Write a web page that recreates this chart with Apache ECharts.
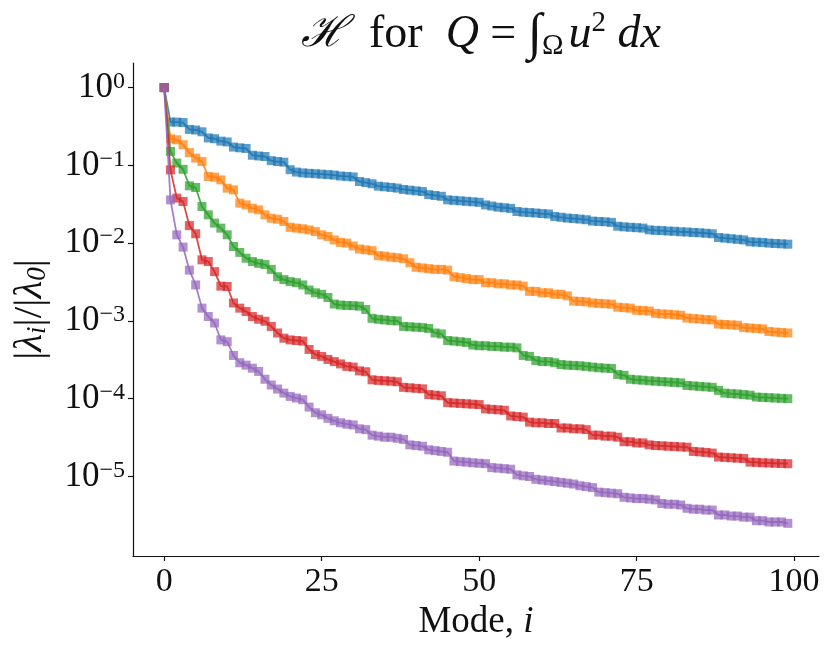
<!DOCTYPE html>
<html>
<head>
<meta charset="utf-8">
<script src="https://cdn.jsdelivr.net/npm/echarts@6/dist/echarts.min.js"></script>
<style>
  html, body { margin: 0; padding: 0; background: #fff; }
  #chart { width: 830px; height: 650px; }
</style>
</head>
<body>
<div id="chart"></div>
<script>
// |lambda_i| / |lambda_0| for modes 0..99, one list per curve
const blue = [1,
  0.36, 0.36, 0.355, 0.29, 0.285, 0.27, 0.225, 0.22, 0.205, 0.2,
  0.172, 0.168, 0.165, 0.135, 0.132, 0.13, 0.115, 0.112, 0.11, 0.088,
  0.082, 0.08, 0.079, 0.078, 0.077, 0.076, 0.075, 0.073, 0.072, 0.071,
  0.062, 0.06, 0.058, 0.054, 0.053, 0.052, 0.051, 0.049, 0.048, 0.047,
  0.046, 0.042, 0.041, 0.04, 0.036, 0.0355, 0.035, 0.0345, 0.034, 0.0335,
  0.031, 0.03, 0.029, 0.0285, 0.028, 0.0255, 0.025, 0.0247, 0.0244, 0.024,
  0.0237, 0.022, 0.0215, 0.021, 0.0207, 0.0204, 0.02, 0.0192, 0.019, 0.0188,
  0.0185, 0.0165, 0.0162, 0.016, 0.0158, 0.0156, 0.0148, 0.0146, 0.0145, 0.0143,
  0.0142, 0.014, 0.0139, 0.0137, 0.0136, 0.0134, 0.0132, 0.0118, 0.0116, 0.0114,
  0.0112, 0.011, 0.0104, 0.0103, 0.0102, 0.01, 0.0099, 0.0098, 0.0097];

const orange = [1,
  0.219, 0.213, 0.184, 0.146, 0.124, 0.112, 0.0718, 0.0705, 0.065, 0.0509,
  0.0484, 0.0327, 0.031, 0.0281, 0.0268, 0.0231, 0.0209, 0.0203, 0.019, 0.016,
  0.0156, 0.0153, 0.0148, 0.0141, 0.0128, 0.0122, 0.011, 0.0102, 0.01, 0.0092,
  0.0084, 0.0082, 0.008, 0.0069, 0.0068, 0.0066, 0.0065, 0.0063, 0.0056, 0.0049,
  0.0048, 0.0047, 0.0046, 0.0046, 0.0045, 0.0037, 0.0036, 0.0035, 0.0034, 0.0034,
  0.0031, 0.0031, 0.003, 0.003, 0.0029, 0.0029, 0.0028, 0.0024, 0.0024, 0.0023,
  0.0023, 0.0022, 0.0022, 0.0021, 0.0018, 0.00178, 0.00176, 0.0017, 0.00168, 0.00166,
  0.00164, 0.0015, 0.00148, 0.00146, 0.00137, 0.00136, 0.00134, 0.00125, 0.00123, 0.00122,
  0.0012, 0.00118, 0.00109, 0.00107, 0.00106, 0.00104, 0.00103, 0.00091, 0.0009, 0.00089,
  0.00088, 0.00082, 0.00081, 0.0008, 0.00079, 0.00073, 0.00072, 0.00071, 0.0007];

const green = [1,
  0.151, 0.107, 0.089, 0.0545, 0.0519, 0.0296, 0.0231, 0.0181, 0.0156, 0.0128,
  0.00905, 0.0076, 0.0064, 0.0058, 0.0055, 0.0053, 0.0046, 0.0037, 0.0034, 0.0032,
  0.0031, 0.0029, 0.0025, 0.0023, 0.0022, 0.002, 0.00165, 0.0016, 0.00158, 0.00157,
  0.00155, 0.0014, 0.00108, 0.00105, 0.00103, 0.00101, 0.001, 0.00085, 0.00084, 0.00083,
  0.00082, 0.0008, 0.0007, 0.00068, 0.00056, 0.00055, 0.00054, 0.00053, 0.00049, 0.00048,
  0.00048, 0.00047, 0.00047, 0.00046, 0.00046, 0.00045, 0.00036, 0.00035, 0.00031, 0.0003,
  0.0003, 0.00029, 0.000275, 0.00027, 0.000268, 0.000265, 0.00026, 0.000255, 0.00025, 0.000247,
  0.000245, 0.000205, 0.0002, 0.000178, 0.000175, 0.000173, 0.00017, 0.000168, 0.000166, 0.000164,
  0.000162, 0.00016, 0.000148, 0.000146, 0.000144, 0.000142, 0.00014, 0.000128, 0.000118, 0.000116,
  0.000115, 0.000113, 0.000111, 0.000105, 0.000104, 0.000103, 0.000102, 0.000101, 0.0001];

const red = [1,
  0.0875, 0.0379, 0.0343, 0.0168, 0.0132, 0.0061, 0.0058, 0.0043, 0.0028, 0.00277,
  0.0017, 0.00146, 0.00132, 0.00114, 0.00105, 0.00099, 0.00085, 0.0007, 0.0006, 0.00057,
  0.00056, 0.00055, 0.00043, 0.00037, 0.00035, 0.00032, 0.0003, 0.00028, 0.00026, 0.000255,
  0.000228, 0.000222, 0.000175, 0.000172, 0.00017, 0.000168, 0.000165, 0.00014, 0.000138, 0.000136,
  0.000134, 0.000113, 0.000111, 0.000109, 0.000089, 0.000088, 0.000087, 0.000086, 0.000085, 0.000084,
  0.000074, 0.000073, 0.000072, 0.000071, 0.00006, 0.000059, 0.000058, 0.00005, 0.000049, 0.000049,
  0.000048, 0.000048, 0.000042, 0.000042, 0.000041, 0.000041, 0.00004, 0.000034, 0.000034, 0.000033,
  0.000033, 0.000032, 0.000028, 0.000028, 0.000027, 0.000027, 0.0000255, 0.000025, 0.0000248, 0.0000245,
  0.0000243, 0.000024, 0.0000238, 0.000021, 0.0000207, 0.0000204, 0.00002, 0.0000178, 0.0000176, 0.0000174,
  0.0000172, 0.000017, 0.0000153, 0.0000152, 0.000015, 0.0000149, 0.0000148, 0.0000147, 0.0000146];

const purple = [1,
  0.036, 0.0128, 0.0089, 0.0045, 0.0029, 0.00146, 0.00114, 0.00094, 0.00057, 0.00054,
  0.00036, 0.00029, 0.00027, 0.000247, 0.000224, 0.000178, 0.00015, 0.000133, 0.000118, 0.000107,
  0.000102, 0.000097, 0.000078, 0.000066, 0.000062, 0.000056, 0.000052, 0.000049, 0.000047, 0.000046,
  0.000041, 0.00004, 0.000034, 0.000033, 0.000032, 0.000032, 0.000031, 0.00003, 0.0000255, 0.000025,
  0.0000245, 0.000022, 0.0000215, 0.000021, 0.0000205, 0.0000158, 0.0000155, 0.0000153, 0.000015, 0.0000148,
  0.0000146, 0.000013, 0.0000128, 0.0000126, 0.0000124, 0.0000105, 0.0000102, 0.00001, 0.0000092, 0.000009,
  0.0000088, 0.0000086, 0.0000084, 0.0000082, 0.000008, 0.0000076, 0.0000074, 0.0000072, 0.0000063, 0.0000062,
  0.0000061, 0.000006, 0.0000054, 0.0000053, 0.0000052, 0.0000052, 0.0000051, 0.000005, 0.0000045, 0.0000044,
  0.0000044, 0.0000043, 0.0000039, 0.0000038, 0.0000038, 0.0000037, 0.0000037, 0.0000032, 0.0000032, 0.0000031,
  0.0000031, 0.000003, 0.000003, 0.0000027, 0.0000027, 0.0000026, 0.0000026, 0.0000026, 0.0000025];

const curves = [blue, orange, green, red, purple];
const colors = ['#1f77b4', '#ff7f0e', '#2ca02c', '#d62728', '#9467bd'];

const xTicks = [0, 25, 50, 75, 100];
const yTicks = [1, 0.1, 0.01, 0.001, 0.0001, 0.00001];
const yTickExps = ['0', '−1', '−2', '−3', '−4', '−5'];

const FONT = '"Liberation Serif", "DejaVu Serif", serif';
const INK = '#111';

const chart = echarts.init(document.getElementById('chart'), null, { renderer: 'canvas' });

function yLabel(v) {
  let k = 0;
  for (let j = 0; j < yTicks.length; j++) {
    if (Math.abs(Math.log10(yTicks[j]) - Math.log10(v)) < 0.01) k = j;
  }
  return '{n|10}{s|' + yTickExps[k] + '}';
}

const series = curves.map((vals, c) => ({
  type: 'line',
  data: vals.map((v, i) => [i, v]),
  symbol: 'rect',
  symbolSize: 9,
  showSymbol: true,
  itemStyle: { color: colors[c], opacity: 0.72 },
  lineStyle: { color: colors[c], width: 1.8, opacity: 0.85 },
  emphasis: { disabled: true },
  z: 2 + c
}));

chart.setOption({
  animation: false,
  title: {
    text: '{c|ℋ}  for  {i|Q} = {int|∫}{sub|Ω}{i|u}{sup|2} {i|dx}',
    left: 476,
    textAlign: 'center',
    top: 4,
    textStyle: {
      fontFamily: FONT, fontSize: 46, fontWeight: 'normal', color: INK,
      rich: {
        c: { fontFamily: '"DejaVu Serif", serif', fontStyle: 'italic', fontSize: 43, color: INK },
        i: { fontFamily: FONT, fontStyle: 'italic', fontSize: 46, color: INK },
        int: { fontFamily: FONT, fontSize: 52, color: INK },
        sub: { fontFamily: FONT, fontSize: 29, verticalAlign: 'bottom', color: INK, padding: [0, 5, 0, 0] },
        sup: { fontFamily: FONT, fontSize: 29, verticalAlign: 'top', color: INK }
      }
    }
  },
  grid: { left: 133, right: 11, top: 63, bottom: 94 },
  xAxis: {
    type: 'value',
    min: -4.95,
    max: 103.95,
    name: 'Mode, {it|i}',
    nameLocation: 'middle',
    nameGap: 46,
    nameTextStyle: {
      fontFamily: FONT, fontSize: 37, color: INK,
      rich: { it: { fontFamily: FONT, fontStyle: 'italic', fontSize: 37, color: INK } }
    },
    splitLine: { show: false },
    axisLine: { onZero: false, lineStyle: { color: INK, width: 1.2 } },
    axisTick: { length: 5, lineStyle: { color: INK, width: 1.2 }, customValues: xTicks },
    axisLabel: {
      customValues: xTicks,
      margin: 9,
      fontFamily: FONT, fontSize: 34, color: INK
    }
  },
  yAxis: {
    type: 'log',
    logBase: 10,
    min: 9.5e-7,
    max: 2.07,
    name: '|{it|λ}{sub|i}|/|{it|λ}{sub|0}|',
    nameLocation: 'middle',
    nameRotate: 90,
    nameGap: 82,
    nameTextStyle: {
      fontFamily: FONT, fontSize: 41, color: INK,
      rich: {
        it: { fontFamily: FONT, fontStyle: 'italic', fontSize: 41, color: INK },
        sub: { fontFamily: FONT, fontStyle: 'italic', fontSize: 27, verticalAlign: 'bottom', color: INK }
      }
    },
    splitLine: { show: false },
    minorTick: { show: false },
    axisLine: { onZero: false, lineStyle: { color: INK, width: 1.2 } },
    axisTick: { length: 5, lineStyle: { color: INK, width: 1.2 }, customValues: yTicks },
    axisLabel: {
      customValues: yTicks,
      margin: 8,
      formatter: yLabel,
      rich: {
        n: { fontFamily: FONT, fontSize: 35, lineHeight: 36, color: INK },
        s: { fontFamily: FONT, fontSize: 24, lineHeight: 24, verticalAlign: 'top', color: INK }
      }
    }
  },
  series: series
});
</script>
</body>
</html>
